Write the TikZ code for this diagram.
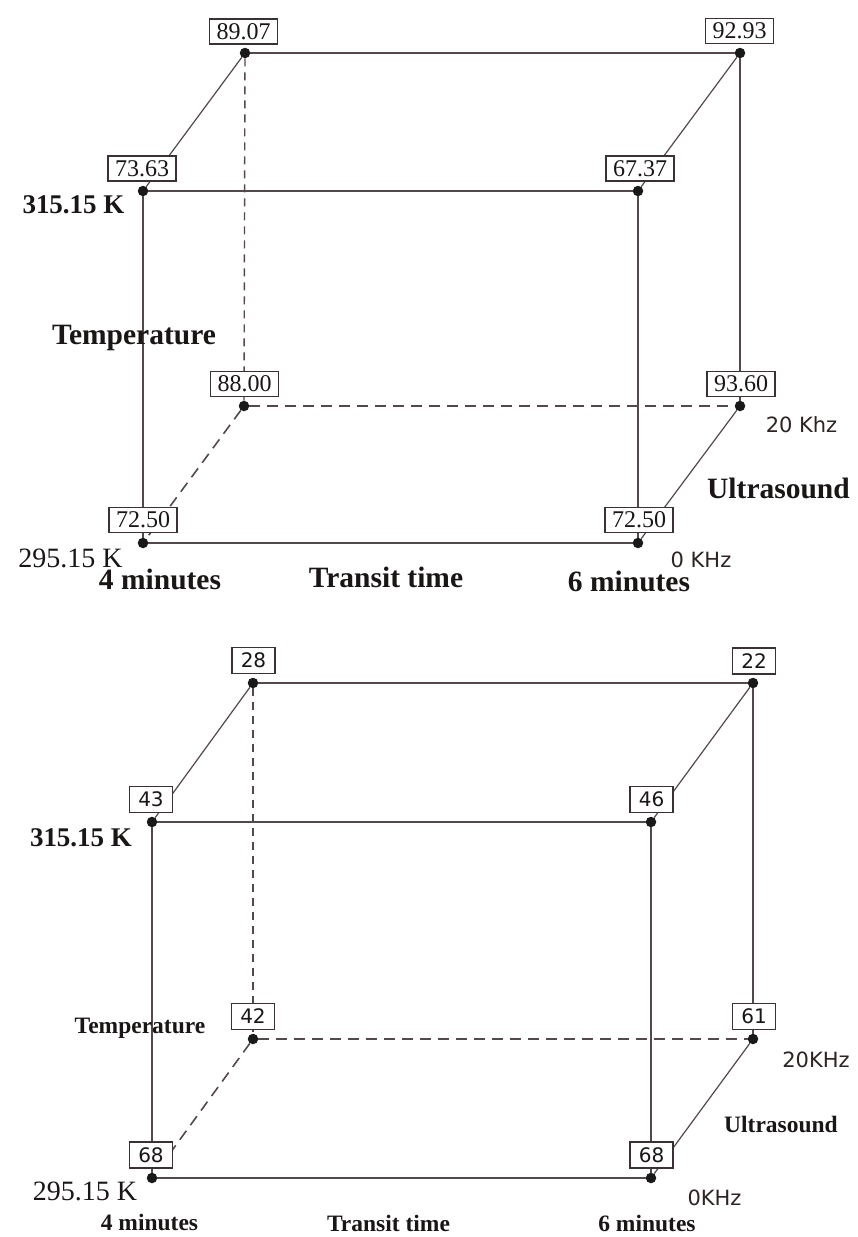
\documentclass[tikz,border=0pt]{standalone}
\usepackage{fontspec}
\setmainfont{Liberation Serif}
\newfontfamily\numsans{DejaVu Sans}
\definecolor{linec}{HTML}{54494A}
\definecolor{boxc}{HTML}{3A3232}
\definecolor{textc}{HTML}{1A1616}
\definecolor{khzc}{HTML}{2E2424}
\begin{document}
\begin{tikzpicture}[x=1pt,y=-1pt,
  edge/.style={draw=linec, line width=1.7pt},
  diag/.style={draw=linec, line width=1.2pt},
  hid/.style={draw=linec, line width=1.6pt, dash pattern=on 11pt off 7pt},
  hidv/.style={draw=linec, line width=1.4pt, dash pattern=on 8pt off 6pt},
  dot/.style={circle, fill=black!90, inner sep=0pt, minimum size=10.5pt},
  vbox/.style={draw=boxc, fill=white, line width=1.1pt, inner xsep=7pt, inner ysep=0pt, minimum height=25pt, text=textc, font=\fontsize{24}{24}\selectfont},
  sbox/.style={draw=boxc, fill=white, line width=1.1pt, inner sep=0pt, minimum height=26pt, minimum width=43pt, text=textc, font=\numsans\fontsize{20}{20}\selectfont},
  bigb/.style={anchor=base, text=textc, font=\bfseries\fontsize{29.5}{30}\selectfont},
  smallb/.style={anchor=base, text=textc, font=\bfseries\fontsize{23.5}{24}\selectfont},
  kb/.style={anchor=base, text=textc, font=\bfseries\fontsize{27}{27}\selectfont},
  kr/.style={anchor=base, text=textc, font=\fontsize{28}{28}\selectfont},
  khz/.style={anchor=base, text=khzc, font=\numsans\fontsize{21}{21}\selectfont}]
\useasboundingbox (0,0) rectangle (858,1237);
\fill[white] (0,0) rectangle (858,1237);

% ---------------- top cube ----------------
\node[dot] (tA) at (245,53) {};
\node[dot] (tC) at (740,53) {};
\node[dot] (tB) at (143,191) {};
\node[dot] (tD) at (638,191) {};
\node[dot] (tE) at (244,406) {};
\node[dot] (tG) at (740,406) {};
\node[dot] (tF) at (143,543) {};
\node[dot] (tH) at (638,543) {};

\draw[edge] (tA) -- (tC);
\draw[edge] (tB) -- (tD);
\draw[edge] (tF) -- (tH);
\draw[edge] (tB) -- (tF);
\draw[edge] (tD) -- (tH);
\draw[edge] (tC) -- (tG);
\draw[diag] (tA) -- (tB);
\draw[diag] (tC) -- (tD);
\draw[diag] (tG) -- (tH);
\draw[hidv] (tA) -- (tE);
\draw[hid] (tE) -- (tG);
\draw[hid] (tE) -- (tF);

\node[vbox] (ltA) at (243.5,31.5) {89.07};
\node[vbox] (ltC) at (739.5,31) {92.93};
\node[vbox] (ltB) at (142,168.5) {73.63};
\node[vbox] (ltD) at (640,168.5) {67.37};
\node[vbox] (ltE) at (244.5,384) {88.00};
\node[vbox] (ltG) at (741,384) {93.60};
\node[vbox] (ltF) at (143,520) {72.50};
\node[vbox] (ltH) at (639,520) {72.50};

\node[kb] (tk1) at (73.5,213) {315.15 K};
\node[bigb] (ttemp) at (134,344) {Temperature};
\node[kr] (tk2) at (70.5,567) {295.15 K};
\node[bigb] (tm4) at (160,589) {4 minutes};
\node[bigb] (ttr) at (386,587) {Transit time};
\node[bigb] (tm6) at (629,591) {6 minutes};
\node[khz] (tz0) at (701,567) {0 KHz};
\node[khz] (tz20) at (801.5,432) {20 Khz};
\node[bigb] (tus) at (778.5,498) {Ultrasound};

% ---------------- bottom cube ----------------
\node[dot] (bA) at (253,683) {};
\node[dot] (bC) at (753,683) {};
\node[dot] (bB) at (152,822) {};
\node[dot] (bD) at (651,822) {};
\node[dot] (bE) at (253,1039) {};
\node[dot] (bG) at (753,1039) {};
\node[dot] (bF) at (152,1178) {};
\node[dot] (bH) at (651,1178) {};

\draw[edge] (bA) -- (bC);
\draw[edge] (bB) -- (bD);
\draw[edge] (bF) -- (bH);
\draw[edge] (bB) -- (bF);
\draw[edge] (bD) -- (bH);
\draw[edge] (bC) -- (bG);
\draw[diag] (bA) -- (bB);
\draw[diag] (bC) -- (bD);
\draw[diag] (bG) -- (bH);
\draw[hidv] (bA) -- (bE);
\draw[hid] (bE) -- (bG);
\draw[hid] (bE) -- (bF);

\node[sbox] (lbA) at (253.5,660.5) {28};
\node[sbox] (lbC) at (754,661) {22};
\node[sbox] (lbB) at (151,799.5) {43};
\node[sbox] (lbD) at (651.5,799.5) {46};
\node[sbox] (lbE) at (253,1016.5) {42};
\node[sbox] (lbG) at (754,1016.5) {61};
\node[sbox] (lbF) at (151,1155) {68};
\node[sbox] (lbH) at (651.5,1155) {68};

\node[kb] (bk1) at (81,846) {315.15 K};
\node[smallb] (btemp) at (140,1033) {Temperature};
\node[kr] (bk2) at (85,1200) {295.15 K};
\node[smallb] (bm4) at (149.5,1230) {4 minutes};
\node[smallb] (btr) at (388.5,1231) {Transit time};
\node[smallb] (bm6) at (647,1231) {6 minutes};
\node[khz] (bz0) at (714.5,1205) {0KHz};
\node[khz] (bz20) at (816,1067) {20KHz};
\node[smallb] (bus) at (781,1132) {Ultrasound};
\end{tikzpicture}
\end{document}
